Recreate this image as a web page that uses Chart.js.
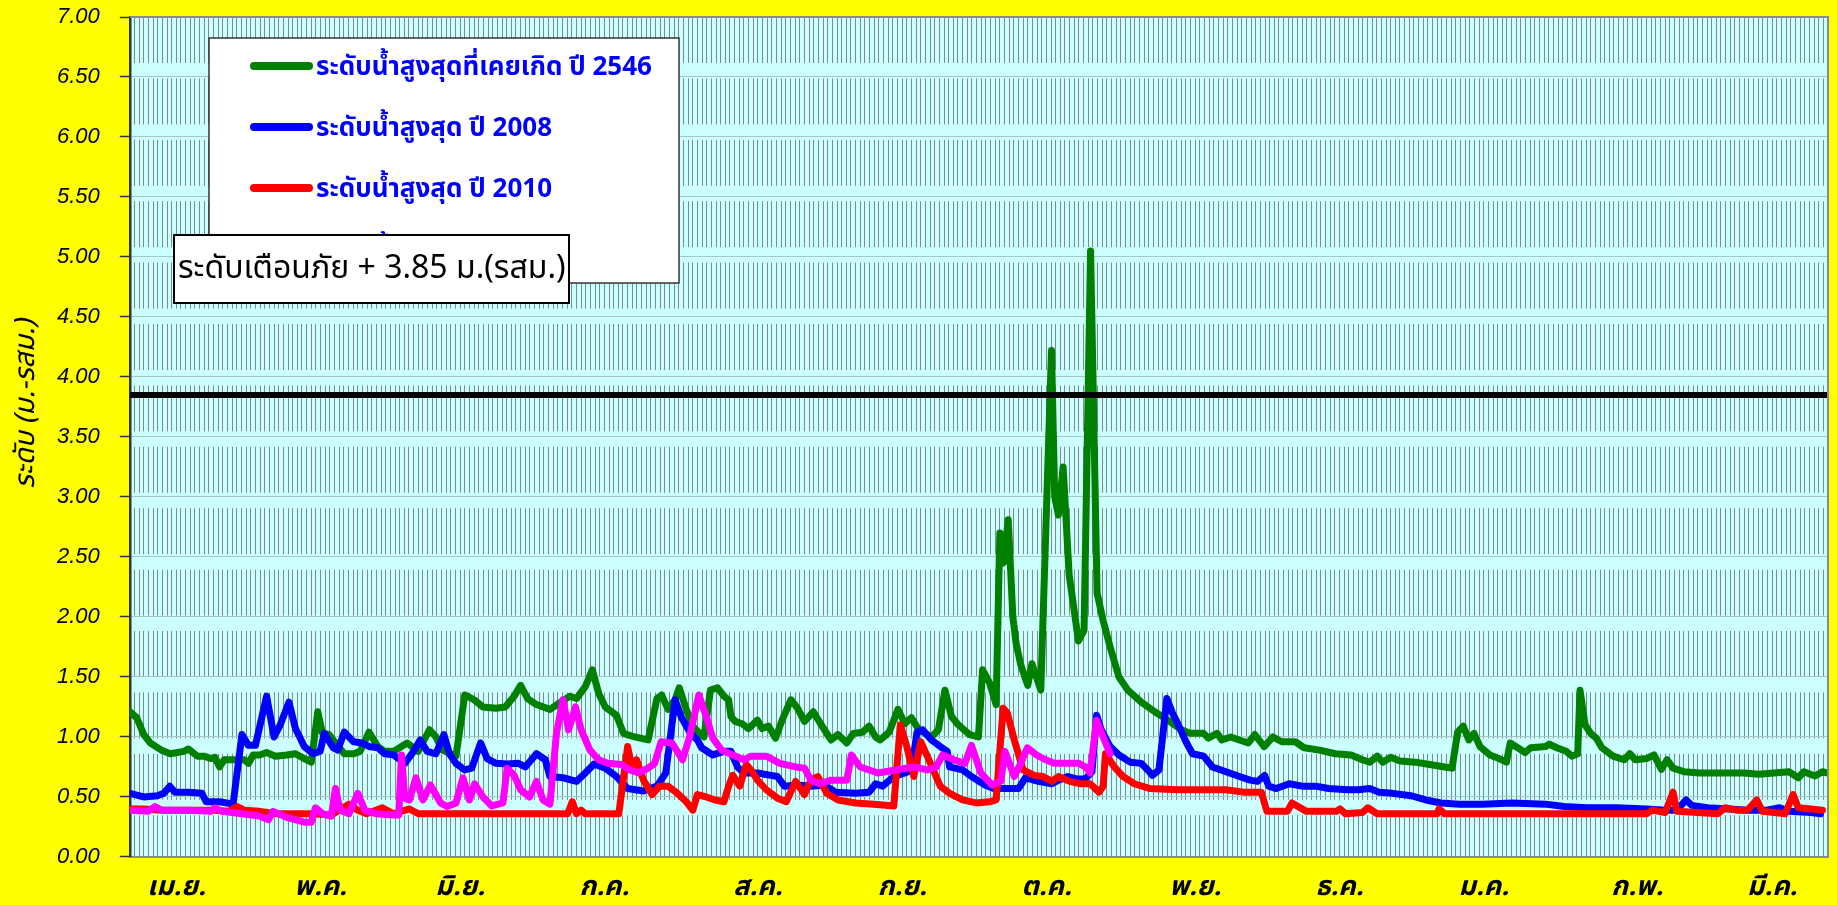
<!DOCTYPE html>
<html>
<head>
<meta charset="utf-8">
<script src="https://cdn.jsdelivr.net/npm/chart.js@4.4.0/dist/chart.umd.min.js"></script>
<style>
  html, body { margin: 0; padding: 0; background: #ffff00; overflow: hidden; }
  #wrap { width: 1837px; height: 905px; }
</style>
</head>
<body>
<div id="wrap"><canvas id="chart" width="1837" height="905"></canvas></div>
<script>
// x = day of the water year (0 = 1 เม.ย.), y = level in m. (รสม.)
const MONTHS = ['เม.ย.', 'พ.ค.', 'มิ.ย.', 'ก.ค.', 'ส.ค.', 'ก.ย.', 'ต.ค.', 'พ.ย.', 'ธ.ค.', 'ม.ค.', 'ก.พ.', 'มี.ค.'];
const MONTH_TICK_DAYS = [10, 41, 71, 102, 135, 166, 197, 229, 260, 291, 324, 353];
const WARN_LEVEL = 3.85;
const WARN_TEXT = 'ระดับเตือนภัย + 3.85 ม.(รสม.)';
const Y_TITLE = 'ระดับ (ม.-รสม.)';

const LABELS = [
  'ระดับน้ำสูงสุดที่เคยเกิด ปี 2546',
  'ระดับน้ำสูงสุด ปี 2008',
  'ระดับน้ำสูงสุด ปี 2010',
  'ระดับน้ำปัจจุบัน ปี 2011'
];

// 2546 (green)
const G_DAYS = [0,1.5,3,4.4,6.8,8.7,11.6,12.6,14.5,15.9,17.4,18.3,19.3,20.3,22.2,24.6,25.5,26.5,27.9,29.4,31.3,33.7,35.6,37.5,39,
  40.4,41.4,42.8,44.2,46.1,48.1,49.5,51.4,53.3,54.8,56.7,59.6,62,64.4,65.8,67.2,70.1,72,74,75.9,78.7,80.7,82.6,84,85.5,87.4,
  90.3,92.2,94.6,96,97.9,99.4,100.8,102.2,104.6,106.1,108.5,111.4,113.3,114.3,115.7,117.2,118.1,119.6,121,122.5,123.4,124.8,
  126.3,127.7,128.7,129.2,130.1,131.6,133,134.9,135.9,137.3,138.8,140.2,142.1,143.5,145,146.9,148.8,150.7,152.2,154.1,155.5,
  157.5,158.9,160.3,161.3,163.2,165.1,166.6,168,169.4,170.9,172.3,173.8,175.2,176.6,178.1,179,180.5,182.4,183.3,184.8,186.2,
  187,187.8,188.8,189.8,190.5,191.5,193,193.9,195.8,198.1,198.8,199.6,200.6,201.9,203.9,205.1,206.5,207.9,209.2,210.7,212.6,
  214.5,217.4,220.3,223.1,226,227.9,230.8,231.8,233.7,234.7,236.6,238.5,240.4,241.8,243.8,245.7,247.6,250.5,252.4,255.7,259.1,
  262.5,264.9,266.5,268.1,269.3,271,273,276.2,279.4,282.6,284.2,285.4,286.6,287.8,288.9,290.2,292.3,294.3,295.9,296.7,298.3,
  299.9,301.1,304.3,305.1,306.7,308.7,310,311.2,311.7,312.8,314,315.2,316.4,318.8,321.2,322.4,323.6,326,327.6,329.2,330.4,
  331.7,334.1,337.3,342.1,346.9,350.1,353.4,356.6,358.6,359.8,362.2,363.8,365];
const G_VALS = [1.21,1.16,1.02,0.95,0.89,0.86,0.88,0.90,0.84,0.84,0.82,0.83,0.75,0.81,0.81,0.81,0.78,0.85,0.85,0.87,0.84,0.85,0.86,0.82,0.79,
  1.21,1.03,1.02,0.95,0.86,0.86,0.88,1.04,0.92,0.88,0.88,0.95,0.88,1.06,1.0,0.89,0.84,1.35,1.31,1.25,1.24,1.25,1.34,1.43,1.32,1.27,
  1.23,1.28,1.34,1.32,1.42,1.56,1.36,1.25,1.18,1.03,1.0,0.975,1.32,1.35,1.23,1.31,1.41,1.23,1.09,1.03,1.0,1.39,
  1.41,1.34,1.31,1.17,1.13,1.11,1.07,1.14,1.07,1.09,0.99,1.14,1.31,1.24,1.13,1.21,1.09,0.975,1.02,0.95,1.03,
  1.04,1.09,1.0,0.975,1.04,1.23,1.11,1.16,1.07,1.03,1.0,1.06,1.39,1.17,1.10,1.07,1.02,1.0,1.56,1.45,1.27,
  2.70,2.45,2.81,2.0,1.78,1.60,1.43,1.61,1.39,4.22,3.0,2.85,3.25,2.35,1.80,1.89,5.05,2.2,1.97,1.75,1.50,
  1.39,1.29,1.21,1.14,1.06,1.03,1.03,0.99,1.03,0.975,1.0,0.975,0.95,1.02,0.92,1.0,0.96,0.96,0.91,0.89,0.86,
  0.85,0.81,0.79,0.84,0.79,0.83,0.80,0.79,0.77,0.75,0.74,1.04,1.09,0.975,1.03,0.92,0.85,0.82,0.79,0.95,0.91,
  0.87,0.91,0.92,0.94,0.91,0.88,0.84,0.86,1.39,1.1,1.03,0.99,0.91,0.84,0.81,0.86,0.81,0.82,0.85,0.73,0.81,
  0.74,0.71,0.70,0.70,0.70,0.69,0.70,0.71,0.66,0.71,0.675,0.71,0.70];

// 2008 (blue)
const B_DAYS = [0,3,5.9,7.3,8.6,9.7,12.6,15.5,16.4,19.3,22.2,24.1,25.5,27,29.4,31,32.2,34.2,35.6,37.5,39.4,40.9,41.8,43.7,44.7,
  46.1,48.1,50,51.4,53.3,54.8,56.7,59.1,61,62.4,63.9,65.8,67.5,68.7,70.1,72,73.5,75.4,76.8,78.7,81.1,83.5,85,87.4,89.3,90.3,
  93.1,96,97.9,99.8,102.2,104.6,107,110.4,113.3,115.2,117.2,118.6,120.5,122,122.9,125.3,127.7,129.2,130.6,132,134.9,137.8,
  139.2,140.7,143.5,146.4,149.3,151.7,156,158.9,160.3,161.8,164.2,166.6,168,169.2,170.4,172.3,174.2,175.7,176.2,179,180.9,
  183.8,185.7,188.6,191,192.5,195.3,198.2,199.6,201.6,203.5,205.4,206.8,207.8,208.8,210.7,212.6,215,217.4,218.8,219.8,221.2,
  222.9,224.1,225.5,227,228.4,230.8,232.7,235.6,238.5,240.8,242.4,243.9,244.8,246.4,249.2,252,254.9,257.7,261.7,264.1,266.5,
  268.5,271.4,275.4,278.6,281.8,285.8,290.7,297.1,304.3,308.3,313.2,319.6,326,330,332.5,334.5,335.7,339.1,343.7,347.7,351.8,
  354.6,356.6,361.4,363.4];
const B_VALS = [0.53,0.50,0.51,0.53,0.59,0.54,0.54,0.53,0.46,0.46,0.44,1.02,0.93,0.93,1.34,1.0,1.09,1.29,1.07,0.92,0.86,0.88,1.03,0.91,0.89,
  1.04,0.96,0.95,0.92,0.91,0.86,0.85,0.78,0.88,0.975,0.88,0.86,1.02,0.86,0.78,0.725,0.74,0.95,0.82,0.78,0.775,0.78,0.75,0.86,0.81,0.67,
  0.66,0.63,0.70,0.775,0.74,0.67,0.57,0.55,0.59,0.70,1.31,1.16,1.03,0.975,0.91,0.85,0.88,0.88,0.75,0.70,0.70,0.68,
  0.67,0.59,0.60,0.59,0.60,0.54,0.53,0.54,0.61,0.59,0.67,0.70,0.725,1.04,1.06,0.975,0.92,0.88,0.75,0.725,0.67,
  0.60,0.57,0.57,0.57,0.66,0.63,0.61,0.64,0.67,0.65,0.65,0.71,1.18,1.06,0.92,0.85,0.79,0.78,0.725,0.68,0.725,
  1.32,1.20,1.09,0.96,0.86,0.84,0.75,0.71,0.67,0.64,0.63,0.68,0.59,0.57,0.61,0.59,0.59,0.57,0.56,0.56,0.57,
  0.54,0.53,0.51,0.475,0.45,0.44,0.44,0.45,0.44,0.42,0.41,0.41,0.40,0.39,0.39,0.475,0.43,0.41,0.40,0.39,0.39,
  0.41,0.38,0.37,0.36];

// 2010 (red)
const R_DAYS = [0,3,6.8,12.6,18.3,21.2,23.1,24.6,27.9,31.8,35.6,39.4,43.3,47.1,49,50.9,54.3,56.7,60.1,62,94.1,95.1,96,97,97.9,
  105.1,107,108,108.9,110.4,112.3,113.8,115.7,117.7,119.6,121,122,123.9,125.8,127.7,128.7,129.6,131.1,132.5,133.5,134.9,136.8,
  139.2,141.1,143.1,145,146.4,147.9,149.8,152.2,156,159.9,164.2,165.6,167,168.5,170,171.4,173.3,174.2,176.2,179,181.9,184.8,
  186.2,187.7,188.6,190.1,192,194.4,196.3,198.2,199.6,202,204.4,206.4,208.3,209.2,209.7,211.6,213.5,215.9,219.3,225.1,230.8,
  235.6,239.4,243.2,244.4,248.8,249.8,252.9,259.3,260.1,261.3,264.9,266.1,268.1,281,281.4,282.6,326,327.2,330,331.7,332.5,
  341.3,342.9,345.3,347.7,349.7,350.9,353.4,355.8,357.5,358.6,361.4,363.8];
const R_VALS = [0.40,0.40,0.39,0.39,0.39,0.38,0.42,0.39,0.38,0.36,0.36,0.36,0.35,0.44,0.39,0.36,0.41,0.36,0.40,0.36,0.36,0.46,0.36,0.39,0.36,
  0.36,0.92,0.725,0.81,0.64,0.52,0.59,0.59,0.53,0.46,0.39,0.52,0.50,0.475,0.46,0.59,0.68,0.59,0.77,0.725,0.64,0.56,
  0.49,0.46,0.63,0.52,0.64,0.67,0.53,0.475,0.45,0.44,0.425,1.10,0.92,0.67,0.96,0.84,0.67,0.59,0.53,0.475,0.45,0.46,
  0.475,1.24,1.20,0.975,0.725,0.68,0.67,0.63,0.67,0.63,0.61,0.61,0.54,0.59,0.86,0.75,0.67,0.61,0.57,0.56,0.56,
  0.56,0.54,0.54,0.38,0.38,0.45,0.38,0.38,0.40,0.36,0.37,0.41,0.36,0.36,0.40,0.36,0.36,0.39,0.37,0.54,0.38,
  0.36,0.41,0.39,0.39,0.475,0.38,0.37,0.36,0.52,0.41,0.40,0.39];

// current year (magenta)
const M_DAYS = [0,3.9,5.4,6.8,12.6,17.4,18.3,19.8,24.1,27.9,29.8,30.8,33.7,37.5,39,39.9,41.4,43.3,44.2,45.2,47.1,49,50.5,52.9,
  56.7,57.8,58.4,59.1,60.1,61.5,63,64.6,66.8,68.2,70.1,71.6,73,74.1,75.9,77.8,80.2,81.1,82.6,84,85.9,87.4,88.8,90.3,91.7,93.1,
  94.3,95.8,97,98.9,100.8,102.7,105.6,107.5,109.4,111.4,112.8,114.2,116.5,118.8,120.3,122.3,123.9,125.3,127.2,129.6,132,133.5,
  136.8,139.7,143.1,145,146.4,148.3,150.7,154.1,155.1,157,160.8,164.6,168.5,171.4,173.3,174.7,177.1,179.5,180.9,182.9,185.3,
  187.2,188.1,190.1,191.5,192.9,194.9,196.8,198.7,201.1,204,205.4,206.4,207.8,209.2,210.7];
const M_VALS = [0.39,0.38,0.42,0.39,0.39,0.38,0.41,0.38,0.36,0.34,0.31,0.38,0.33,0.29,0.29,0.41,0.36,0.34,0.57,0.39,0.36,0.53,0.39,0.36,
  0.35,0.35,0.85,0.49,0.475,0.66,0.475,0.60,0.45,0.42,0.45,0.66,0.475,0.61,0.50,0.425,0.45,0.74,0.68,0.56,0.50,0.63,0.475,0.44,1.03,1.31,
  1.06,1.25,1.06,0.89,0.81,0.78,0.77,0.725,0.70,0.74,0.78,0.96,0.95,0.81,1.0,1.35,1.17,0.99,0.89,0.85,0.81,0.84,
  0.84,0.78,0.75,0.74,0.64,0.61,0.64,0.64,0.85,0.75,0.70,0.725,0.75,0.725,0.75,0.85,0.81,0.78,0.93,0.70,0.60,
  0.63,0.88,0.67,0.78,0.91,0.85,0.81,0.78,0.78,0.78,0.75,0.70,1.14,1.0,0.86];

const X_MAX = 365;

const THAI = "Tahoma, 'Noto Sans Thai', 'Noto Sans Thai UI', Loma, Garuda, Kinnari, 'Liberation Sans', sans-serif";

function pts(days, vals) {
  return days.map((d, i) => ({ x: d, y: vals[i] }));
}

function line(label, color, data, order) {
  return {
    label, data, order,
    borderColor: color, backgroundColor: color,
    borderWidth: 7, pointRadius: 0, fill: false, tension: 0,
    borderJoinStyle: 'round', borderCapStyle: 'round'
  };
}

// background, frame, y title, legend box and warning label
const decor = {
  id: 'decor',
  beforeDraw(chart) {
    const { ctx, chartArea: a } = chart;
    ctx.save();
    ctx.fillStyle = '#ffff00';
    ctx.fillRect(0, 0, chart.width, chart.height);
    ctx.fillStyle = '#ccffff';
    ctx.fillRect(a.left, a.top, a.right - a.left, a.bottom - a.top);
    ctx.restore();
  },
  afterDraw(chart) {
    const { ctx, chartArea: a } = chart;
    ctx.save();

    // top + right frame
    ctx.strokeStyle = '#8a8a8a';
    ctx.lineWidth = 2;
    ctx.beginPath();
    ctx.moveTo(a.left, a.top);
    ctx.lineTo(a.right, a.top);
    ctx.lineTo(a.right, a.bottom);
    ctx.stroke();

    // y title
    ctx.save();
    ctx.translate(28, 404);
    ctx.rotate(-Math.PI / 2);
    ctx.fillStyle = '#000';
    ctx.font = 'italic 28px ' + THAI;
    ctx.textAlign = 'center';
    ctx.textBaseline = 'middle';
    ctx.fillText(Y_TITLE, 0, 0);
    ctx.restore();

    // legend box
    ctx.fillStyle = '#ffffff';
    ctx.fillRect(209, 38, 470, 245);
    ctx.strokeStyle = '#333';
    ctx.lineWidth = 1.5;
    ctx.strokeRect(209, 38, 470, 245);
    const legendSets = [4, 3, 2, 1].map(o => chart.data.datasets.find(d => d.order === o));
    legendSets.forEach((ds, i) => {
      const y = 66 + 61 * i;
      ctx.strokeStyle = ds.borderColor;
      ctx.lineWidth = 8;
      ctx.lineCap = 'round';
      ctx.beginPath();
      ctx.moveTo(254, y);
      ctx.lineTo(309, y);
      ctx.stroke();
      ctx.fillStyle = '#0000ff';
      ctx.font = 'bold 26px ' + THAI;
      ctx.textAlign = 'left';
      ctx.textBaseline = 'middle';
      ctx.fillText(ds.label, 316, y + 4);
    });

    // warning label box
    ctx.fillStyle = '#ffffff';
    ctx.fillRect(174, 235, 395, 68);
    ctx.strokeStyle = '#000';
    ctx.lineWidth = 2;
    ctx.strokeRect(174, 235, 395, 68);
    ctx.fillStyle = '#000';
    ctx.font = '32px ' + THAI;
    ctx.textAlign = 'left';
    ctx.textBaseline = 'middle';
    ctx.fillText(WARN_TEXT, 178, 272);

    ctx.restore();
  }
};

const datasets = [
  line('warn', '#000000', [{ x: 0, y: WARN_LEVEL }, { x: X_MAX, y: WARN_LEVEL }], 0),
  line(LABELS[3], '#ff00ff', pts(M_DAYS, M_VALS), 1),
  line(LABELS[2], '#ff0000', pts(R_DAYS, R_VALS), 2),
  line(LABELS[1], '#0000ff', pts(B_DAYS, B_VALS), 3),
  line(LABELS[0], '#008000', pts(G_DAYS, G_VALS), 4)
];
datasets[0].borderCapStyle = 'butt';
datasets[0].borderWidth = 6;

new Chart(document.getElementById('chart'), {
  type: 'line',
  data: { datasets },
  options: {
    responsive: false,
    animation: false,
    events: [],
    layout: { padding: { left: 37, top: 17, right: 9, bottom: 0 } },
    plugins: { legend: { display: false }, tooltip: { enabled: false } },
    scales: {
      x: {
        type: 'linear', min: 0, max: X_MAX,
        afterBuildTicks: s => {
          const t = [];
          for (let d = 0; d <= X_MAX; d++) t.push({ value: d });
          s.ticks = t;
        },
        afterFit: s => { s.paddingLeft = 0; s.paddingRight = 0; },
        // tick marks are invisible: they only push the month names down
        grid: { color: '#7f8b8b', lineWidth: 1, drawTicks: true, tickLength: 17, tickColor: 'rgba(0,0,0,0)' },
        border: { display: true, color: '#8a8a8a', width: 2, dash: [46, 15.4] },
        ticks: {
          autoSkip: false, maxRotation: 0, padding: 0,
          color: '#000', font: { family: THAI, size: 27, style: 'italic', weight: 'bold', lineHeight: 1.15 },
          callback: v => {
            const i = MONTH_TICK_DAYS.indexOf(v);
            return i >= 0 ? MONTHS[i] : '';
          }
        }
      },
      y: {
        min: 0, max: 7,
        afterFit: s => { s.paddingTop = 0; s.paddingBottom = 0; },
        ticks: {
          stepSize: 0.5, padding: 20, color: '#000',
          font: { family: "'Liberation Sans', Arial, sans-serif", size: 22, style: 'italic' },
          callback: v => v.toFixed(2)
        },
        grid: { color: '#a9c6c6', lineWidth: 1, tickLength: 10, tickColor: '#333', tickWidth: 1.5 },
        border: { display: true, color: '#333', width: 2.5 }
      }
    }
  },
  plugins: [decor]
});
</script>
</body>
</html>
